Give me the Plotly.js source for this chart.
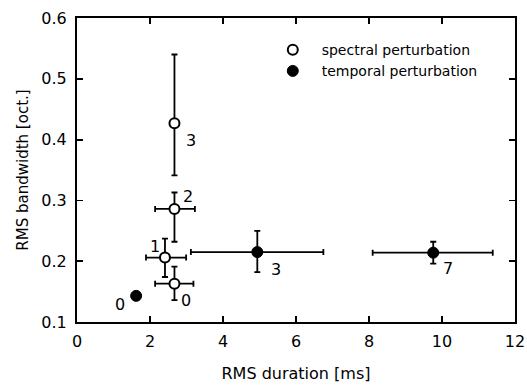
<!DOCTYPE html>
<html>
<head>
<meta charset="utf-8">
<script src="https://cdn.plot.ly/plotly-3.0.1.min.js"></script>
<style>html,body{margin:0;padding:0;background:#fff;}#chart{width:527px;height:388px;}</style>
</head>
<body>
<div id="chart"></div>
<script>
// Spectral perturbation (open circles)
var specDuration = [2.67, 2.67, 2.41, 2.67];
var specBandwidth = [0.427, 0.286, 0.206, 0.163];
var specBwPlus = [0.113, 0.027, 0.031, 0.028];
var specBwMinus = [0.086, 0.054, 0.032, 0.027];
var specDurPlus = [0, 0.56, 0.58, 0.52];
var specDurMinus = [0, 0.53, 0.52, 0.53];
var specLabels = ["3", "2", "1", "0"];

// Temporal perturbation (filled circles)
var tempDuration = [1.62, 4.94, 9.76];
var tempBandwidth = [0.143, 0.215, 0.214];
var tempBwPlus = [0, 0.035, 0.018];
var tempBwMinus = [0, 0.033, 0.018];
var tempDurPlus = [0, 1.81, 1.63];
var tempDurMinus = [0, 1.82, 1.66];
var tempLabels = ["0", "3", "7"];

var xTicks = [0, 2, 4, 6, 8, 10, 12];
var yTicks = [0.1, 0.2, 0.3, 0.4, 0.5, 0.6];

// label pixel offsets (styling)
var specShift = [[17, -17], [14, 12], [-10, 11], [12, -17]];
var tempShift = [[-16, -9], [19, -17], [15, -16]];

var FONT = "DejaVu Sans, Liberation Sans, Arial, sans-serif";

function errCfg(plus, minus, w) {
  return {type: "data", symmetric: false, array: plus, arrayminus: minus,
          color: "#000", thickness: 1.8, width: w};
}

var traces = [
  {
    x: specDuration, y: specBandwidth, type: "scatter", mode: "markers",
    name: "\u00a0\u00a0spectral perturbation",
    error_y: errCfg(specBwPlus, specBwMinus, 3),
    error_x: errCfg(specDurPlus, specDurMinus, 3),
    marker: {symbol: "circle", size: 10, color: "#fff", line: {color: "#000", width: 2}}
  },
  {
    x: tempDuration, y: tempBandwidth, type: "scatter", mode: "markers",
    name: "\u00a0\u00a0temporal perturbation",
    error_y: errCfg(tempBwPlus, tempBwMinus, 3),
    error_x: errCfg(tempDurPlus, tempDurMinus, 3),
    marker: {symbol: "circle", size: 11, color: "#000", line: {color: "#000", width: 1}}
  }
];

var annotations = [];
specLabels.forEach(function (t, i) {
  annotations.push({x: specDuration[i], y: specBandwidth[i], text: t, showarrow: false,
    xshift: specShift[i][0], yshift: specShift[i][1], font: {family: FONT, size: 16, color: "#000"}});
});
tempLabels.forEach(function (t, i) {
  annotations.push({x: tempDuration[i], y: tempBandwidth[i], text: t, showarrow: false,
    xshift: tempShift[i][0], yshift: tempShift[i][1], font: {family: FONT, size: 16, color: "#000"}});
});

var axisCommon = {
  showgrid: false, zeroline: false, showline: true, linecolor: "#000", linewidth: 2,
  mirror: "ticks", ticks: "inside", ticklen: 6, tickwidth: 1.8, tickcolor: "#000",
  tickfont: {family: FONT, size: 16, color: "#000"}
};

var layout = {
  width: 527, height: 388,
  margin: {l: 77, r: 12, t: 18, b: 66},
  paper_bgcolor: "#fff", plot_bgcolor: "#fff",
  font: {family: FONT, color: "#000"},
  showlegend: true,
  legend: {x: 0.447, y: 0.947, xanchor: "left", yanchor: "top", bgcolor: "rgba(0,0,0,0)",
           font: {family: FONT, size: 14, color: "#000"}, tracegroupgap: 0},
  xaxis: Object.assign({}, axisCommon, {
    range: [0, 12], tickvals: xTicks, ticktext: xTicks.map(String), ticklabelstandoff: 4,
    title: {text: "RMS duration [ms]", font: {family: FONT, size: 16, color: "#000"}, standoff: 18}
  }),
  yaxis: Object.assign({}, axisCommon, {
    range: [0.1, 0.6], tickvals: yTicks, ticktext: yTicks.map(function (v) { return v.toFixed(1); }),
    ticklabelstandoff: 5,
    title: {text: "RMS bandwidth [oct.]", font: {family: FONT, size: 15, color: "#000"}, standoff: 9}
  }),
  annotations: annotations
};

Plotly.newPlot("chart", traces, layout, {staticPlot: true, displayModeBar: false});
</script>
</body>
</html>
